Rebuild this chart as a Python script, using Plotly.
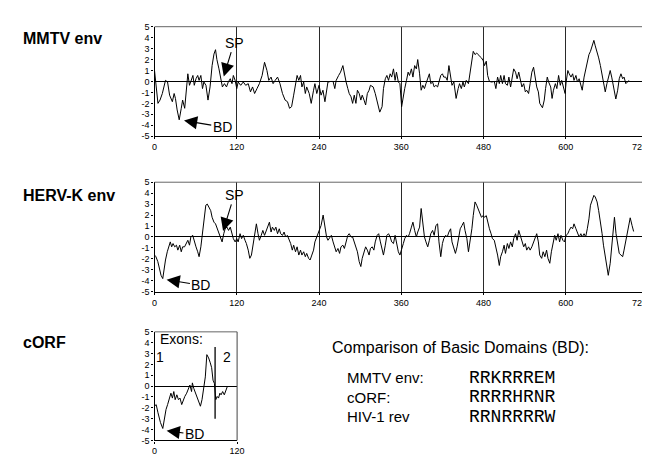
import plotly.graph_objects as go

# ---------------- data ----------------
mmtv_x = [0, 2, 5, 8, 11.4, 16, 19, 22, 26, 28.6, 30.5, 33, 36, 39, 41, 44, 46, 48.6, 51, 53, 56, 58, 60.5, 63, 65, 67.6, 70, 72, 75, 78, 81, 84, 86.7, 89, 91, 94, 97, 99, 102, 105, 107.6, 110.5, 113, 115, 117.6, 120, 122, 125.7, 129.5, 133, 136.7, 140, 143, 146, 149.5, 153, 157, 160.5, 164, 166.7, 170, 173, 176, 179.5, 183, 186.7, 190.5, 194, 197, 200, 203, 205.7, 208, 210.5, 213, 215, 217.6, 220, 222, 225.7, 228.6, 232, 234, 236.7, 240, 243, 245.7, 248.6, 251, 253, 257, 260.5, 263, 265, 268.6, 271.4, 274.8, 277, 279.5, 282, 284, 286.7, 289, 291.4, 293.8, 296, 298.6, 301, 303, 305.7, 308, 310.5, 313, 315, 319, 322, 325.7, 328.6, 332, 334, 336.7, 339, 341.4, 343.8, 346, 348.6, 351, 353, 355.7, 358, 360.5, 363, 365, 367.6, 370, 372, 374.8, 377, 379.5, 382, 384, 386.7, 389, 391.4, 393.8, 396, 398.6, 401, 403, 405.7, 408, 410.5, 413, 415, 417.6, 420, 422, 424.8, 427, 429.5, 432, 434, 436.7, 440, 443, 445, 447.6, 450, 452, 454.8, 458, 460.5, 463, 465, 467.6, 470, 472, 474.8, 477, 479.5, 481.4, 484, 486, 488.6, 492, 495.7, 498, 500.5, 503, 505, 507.6, 510, 512, 514.8, 517, 519.5, 522, 524, 526.7, 529, 531.4, 533.8, 536, 538.6, 541, 543, 545.7, 548, 550.5, 553, 555, 557.6, 560, 562, 566, 568.6, 570.5, 573, 575, 578, 580, 582, 584.8, 587, 589.5, 592, 594, 596.7, 599, 600.5, 603, 605, 607.6, 610, 612, 614.8, 617, 619.5, 622, 624, 626.7, 629, 631.4, 633.8, 636, 638.6, 641, 643, 645.7, 648, 650.5, 653, 655, 657.6, 660, 662, 664.8, 667, 669.5, 673, 675.7, 678, 680.5, 683, 685, 687.6, 690, 692]
mmtv_y = [1.0, -0.35, -2.0, -1.7, -1.1, 0.1, -0.05, -1.25, -1.85, -1.1, -1.55, -2.6, -3.5, -2.45, -1.7, -2.45, -1.1, 0.7, -0.35, -0.05, 0.55, -0.35, 0.25, 0.55, 0.1, 0.55, -0.65, -0.05, -0.35, -1.7, -0.5, 1.45, 2.5, 2.9, 2.0, 1.15, 0.1, -0.5, -0.2, -0.5, -0.05, 0.25, -0.2, 0.55, 0.1, -0.65, -0.05, -0.35, -0.05, -0.35, -0.2, -0.95, -0.5, -1.1, -0.65, -0.2, 0.55, 1.75, 1.0, 0.1, 0.4, -0.2, 0.1, 0.4, -0.2, -1.1, -1.7, -1.85, -2.45, -2.3, -1.25, -0.2, 0.55, 0.1, 0.55, -0.5, -0.05, -1.1, -0.5, -1.1, -2.0, -0.8, -0.2, -1.1, -0.35, -1.25, -0.8, -1.85, -0.8, -0.05, 0, 0, -0.65, 0.1, 0.55, 0.85, 1.45, 0.55, -0.05, -0.65, -1.1, -1.4, -2.0, -1.25, -2.0, -0.8, -1.1, -1.7, -1.25, -1.7, -2.15, -1.1, -0.8, -0.35, -0.5, -1.1, -2.15, -2.8, -2.3, -0.65, 0.25, 0.55, 0.1, 0.7, 0.4, 1.15, 0.1, 0.85, -0.05, -0.2, -2.3, -1.25, -0.65, 0.1, 0.85, 0.55, 1.15, 0.4, 1.45, 1.15, 2.0, 0.7, -0.8, -0.35, -0.65, -0.2, 0.25, 0.7, -0.2, -0.05, -0.5, -0.35, -0.5, -0.05, 0.55, 0.7, 0.4, 0.4, 0.1, 1.45, 0.55, -0.35, -0.05, -1.55, -0.65, -0.2, -0.65, -0.05, -0.5, 0.1, -0.2, 0.85, 1.75, 2.75, 2.45, 2.6, 2.45, 2.3, 2.15, 1.9, 1.45, 1.85, 0.55, 0, -0.05, 0, -0.65, 0.4, -0.2, 0.55, -0.2, 0.55, -0.2, -0.35, 0.4, -0.5, 0.25, 1.15, 0.85, 0.25, 0.85, 0.1, -0.5, -0.2, -0.95, -0.8, -1.1, -0.2, 0.85, 1.3, 0.4, -0.5, -0.95, -2.0, -2.4, -1.7, -0.65, 0.4, -0.05, -0.5, -1.55, -0.8, -0.2, -0.65, 0.55, -0.35, 0.1, -0.5, -1.1, -0.05, 1.0, 0.7, 0.4, 0.7, 0.1, 0.55, -0.05, 0.25, -0.5, -0.8, 0.4, 1.15, 2.0, 2.45, 2.75, 3.2, 3.75, 3.25, 2.75, 2.15, 1.45, 0.55, -0.2, -0.95, -0.2, 0.25, 1.0, 0.4, -0.5, -1.6, -0.8, 0.25, 0.7, 0.25, 0.4, -0.2, -0.05, 0.1]

hervk_x = [0, 2, 4.8, 7, 9.5, 12, 14, 16, 18.6, 21, 23, 25, 27, 29.5, 32, 34, 36.7, 39, 41, 43.8, 46, 48.6, 51, 53, 55.7, 58, 60.5, 63, 65, 67.6, 70, 72, 74.8, 77, 79.5, 82, 84, 86.7, 89, 91.4, 93.8, 96, 98.6, 101, 103, 105.7, 108, 110.5, 113, 115, 117.6, 120, 122, 124.8, 127, 129.5, 132, 134, 136.7, 139, 141.4, 143.8, 146, 148.6, 151, 153, 155.7, 158, 160.5, 163, 165, 167.6, 170, 172, 174.8, 177, 179.5, 182, 184, 186.7, 189, 191.4, 193.8, 196, 198.6, 201, 203, 205.7, 208, 210.5, 213, 215, 217.6, 220, 222, 224.8, 227, 229.5, 232, 234, 236.7, 240, 243, 246, 248.6, 251, 253, 255.7, 258, 260.5, 263, 265, 267.6, 270, 272, 274.8, 277, 279.5, 282, 284, 286.7, 289, 291.4, 293.8, 296, 298.6, 301, 303, 305.7, 308, 310.5, 313, 315, 317.6, 320, 322, 324.8, 327, 329.5, 332, 334, 336.7, 339, 341.4, 343.8, 346, 348.6, 351, 353, 355.7, 358, 360.5, 363, 365, 367.6, 370, 372, 374.8, 377, 379.5, 382, 384, 386.7, 389, 391.4, 393.8, 396, 398.6, 401, 403, 405.7, 408, 410.5, 413, 415, 417.6, 420, 422, 424.8, 427, 429.5, 432, 434, 436.7, 439, 441.4, 443.8, 446, 448.6, 451, 453, 455.7, 458, 460.5, 463, 465, 467.6, 470, 472, 474.8, 477, 479.5, 481.4, 484, 486, 488.6, 491, 493, 495.7, 498, 500.5, 503, 505, 507.6, 510, 512, 514.8, 517, 519.5, 522, 524, 526.7, 529, 531.4, 533.8, 536, 538.6, 541, 543, 545.7, 548, 550.5, 553, 555, 557.6, 560, 562, 564.8, 567, 569.5, 572, 574, 576.7, 579, 581.4, 583.8, 586, 588.6, 591, 593, 595.7, 598, 600.5, 603, 605, 607.6, 610, 612, 614.8, 617, 619.5, 622, 624, 626.7, 629, 631.4, 633.8, 636, 638.6, 641, 643, 645.7, 648, 650.5, 653, 655, 657.6, 660, 662, 664.8, 667, 669.5, 671, 673.3, 675.7, 678, 680.5, 683, 685, 687.6, 690, 692.4, 694, 696.7, 699]
hervk_y = [-1.65, -1.8, -2.25, -2.9, -3.5, -3.8, -2.9, -2.1, -1.35, -0.9, -0.45, -0.9, -0.6, -0.9, -0.75, -1.2, -0.75, -1.35, -0.9, -0.9, -0.6, -0.3, -0.75, 0, 0.15, -0.45, -0.9, -1.35, -1.8, -0.9, 0.45, 1.65, 2.9, 3.0, 2.7, 2.4, 1.8, 1.35, 1.2, 0.75, 0.3, 0, -0.45, 0.3, 0.75, 0.9, 0.6, 0.9, 0.3, -0.15, -0.45, -0.15, -0.45, 0.3, -0.15, 0.15, -0.3, -0.6, -1.2, -1.95, -1.65, -0.75, 0.3, 1.2, 0.3, -0.3, 0.15, 0.6, 0.15, 0.6, 1.05, 1.35, 0.45, 0.9, 0.6, 0.9, 0.3, 0.75, 0.3, 0.15, 0.45, 0, 0.15, -0.15, -0.6, -1.2, -0.75, -1.35, -0.9, -1.65, -1.2, -1.65, -1.35, -1.8, -1.5, -1.95, -2.1, -1.65, -1.2, -0.45, 0, 0.6, 1.05, 2.0, 0.75, 0, -0.3, 0, 0.15, -0.45, -0.9, -1.35, -1.05, -1.5, -0.9, -0.75, -1.05, -0.45, 0.15, 0.3, 0, 0, -0.45, -0.75, -1.35, -2.25, -2.7, -1.95, -1.35, -0.9, -1.2, -1.65, -1.05, -0.9, -1.2, -0.45, 0.15, 0.3, -0.45, -1.05, -1.65, -0.75, 0.15, 0.3, 0, -0.45, -0.6, 0.15, -0.6, -1.35, -1.65, -1.2, -0.6, -0.15, 0.15, 0, 0.3, 0.9, 1.35, 0.6, 0, 0.45, 0.9, 2.6, 1.35, 0, -0.45, -0.9, -0.3, 0.3, 0.6, 0.15, 1.05, 1.2, -0.45, -1.8, -0.6, -0.15, 0.15, 0, 0.45, 0.75, -0.45, -1.05, -1.5, -0.9, 0, 0.75, 1.05, 1.35, 0.6, -0.15, -1.35, -0.45, 0.75, 1.95, 3.2, 2.9, 2.6, 2.1, 1.8, 1.95, 1.8, 1.95, 1.35, 0.75, 0.3, -0.15, -0.3, -0.9, -1.65, -2.6, -1.8, -1.35, -0.75, -1.5, -0.6, -1.05, -0.45, -0.9, -0.15, 0.3, -0.3, 0.6, 0.15, -0.45, -0.9, -0.6, -1.2, -0.9, -1.2, -0.9, -0.45, 0, 0.3, -0.45, -1.65, -1.95, -1.35, -1.8, -1.2, -1.95, -2.4, -1.35, -0.6, 0.15, -0.3, 0.3, -0.45, 0.15, -0.3, -0.45, 0.15, 0.3, 0.6, 0.9, 0.75, 1.2, 0.75, 0.3, 0, 0.3, 0, 0.3, 0, 0.75, 1.65, 2.9, 3.5, 3.8, 3.65, 3.2, 2.4, 1.5, 0.3, -0.75, -1.8, -2.6, -3.5, -2.4, -0.9, 0.75, 1.8, 0.3, -0.75, -1.5, -1.65, -1.8, -1.2, -0.3, 0.45, 1.05, 1.75, 1.05, 0.5]

corf_x = [0, 2.4, 5, 8.6, 12, 14.3, 16.7, 19, 21.4, 23.8, 26, 28, 30, 32.4, 34.8, 37, 39.5, 42, 44, 46.7, 49, 51.4, 53.8, 55, 57, 59.5, 62, 64, 66.7, 69, 71.4, 73.8, 76, 78.6, 81, 83, 85, 87, 89, 91, 93, 95, 96.7, 99, 101.4, 103.8, 106]
corf_y = [-1.85, -1.7, -2.45, -3.35, -3.9, -2.9, -2.15, -1.7, -1.25, -0.65, -1.1, -0.5, -1.25, -0.8, -1.25, -1.1, -1.7, -1.25, -0.95, -0.65, -0.35, 0.1, -0.5, 0.3, -0.2, -0.65, -0.95, -1.4, -1.85, -1.25, -0.35, 0.85, 2.9, 2.6, 2.15, 1.7, 0.55, 0.25, -1.25, -0.95, -1.1, -0.65, -0.8, -0.5, -0.8, -0.35, 0]

exon_boundary_x = [88, 88]
exon_boundary_y = [3.6, -3.0]

env_xticks = [0, 120, 240, 360, 480, 600, 720]
corf_xticks = [0, 120]
y_ticks = [5, 4, 3, 2, 1, 0, -1, -2, -3, -4, -5]
y_ticklabels = [str(v) for v in y_ticks]

panel_labels = ["MMTV env", "HERV-K env", "cORF"]
bd_title = "Comparison of Basic Domains (BD):"
bd_names = ["MMTV env:", "cORF:", "HIV-1 rev"]
bd_seqs = ["RRKRRREM", "RRRRHRNR", "RRNRRRRW"]

# ---------------- layout ----------------
W, H = 650, 456
FONT = "Arial, Liberation Sans, sans-serif"

def px_x(p):
    return p / W

def px_y(p):
    return 1 - p / H

fig = go.Figure()
line = dict(color="black", width=1)
fig.add_trace(go.Scatter(x=mmtv_x, y=mmtv_y, mode="lines", line=line, xaxis="x", yaxis="y", showlegend=False))
fig.add_trace(go.Scatter(x=hervk_x, y=hervk_y, mode="lines", line=line, xaxis="x2", yaxis="y2", showlegend=False))
fig.add_trace(go.Scatter(x=corf_x, y=corf_y, mode="lines", line=line, xaxis="x3", yaxis="y3", showlegend=False))
fig.add_trace(go.Scatter(x=exon_boundary_x, y=exon_boundary_y, mode="lines", line=dict(color="black", width=1.3),
                         xaxis="x3", yaxis="y3", showlegend=False))

tickfont = dict(family=FONT, size=9, color="black")

def xax(domain, rng, ticks, anchor):
    # the last tick label of the wide panels sits on the page edge; it is written as an annotation
    labels = [str(t) if t < 720 else "" for t in ticks]
    return dict(domain=domain, range=rng, anchor=anchor, tickvals=ticks, ticktext=labels,
                showgrid=True, gridcolor="#2a2a2a", gridwidth=1, zeroline=False, showline=True,
                linecolor="black", linewidth=1.2, ticks="outside", ticklen=2, tickcolor="black",
                tickfont=tickfont, fixedrange=True)

def yax(domain, anchor):
    return dict(domain=domain, range=[-5, 5], anchor=anchor, tickvals=y_ticks, ticktext=y_ticklabels,
                showgrid=False, zeroline=True, zerolinecolor="black", zerolinewidth=1.2, showline=True,
                linecolor="black", linewidth=1.2, ticks="outside", ticklen=2, tickcolor="black",
                tickfont=tickfont, fixedrange=True)

fig.update_layout(
    width=W, height=H, margin=dict(l=0, r=0, t=0, b=0),
    paper_bgcolor="white", plot_bgcolor="white",
    xaxis=xax([px_x(146), px_x(648)], [0, 720], env_xticks, "y"),
    yaxis=yax([px_y(126), px_y(14)], "x"),
    xaxis2=xax([px_x(146), px_x(648)], [0, 720], env_xticks, "y2"),
    yaxis2=yax([px_y(285), px_y(173)], "x2"),
    xaxis3=xax([px_x(146), px_x(230)], [0, 120], corf_xticks, "y3"),
    yaxis3=yax([px_y(437), px_y(326)], "x3"),
)

# frame borders (top grey, right grey)
for xa, ya in [("x", "y"), ("x2", "y2"), ("x3", "y3")]:
    fig.add_shape(type="line", xref=f"{xa} domain", yref=f"{ya} domain", x0=0, x1=1, y0=1, y1=1,
                  line=dict(color="#666", width=1))
    fig.add_shape(type="line", xref=f"{xa} domain", yref=f"{ya} domain", x0=1, x1=1, y0=0, y1=1,
                  line=dict(color="#444", width=1))

ann = []
lab_font = dict(family=FONT, size=16, color="black")
for text, yp in zip(panel_labels, [26, 187, 337]):
    ann.append(dict(text=f"<b>{text}</b>", x=px_x(10), y=px_y(yp), xref="paper", yref="paper",
                    xanchor="left", yanchor="middle", showarrow=False, font=lab_font))

# the "720" end labels of the two wide panels
for yp in [137, 296]:
    ann.append(dict(text=str(env_xticks[-1]), x=px_x(630), y=px_y(yp), xref="paper", yref="paper",
                    xanchor="left", yanchor="middle", showarrow=False, font=tickfont))

arrow_font = dict(family=FONT, size=14, color="black")

def arrow(text, xa, ya, tx, ty, hx, hy):
    return dict(text=text, x=hx, y=hy, ax=tx, ay=ty, xref=xa, yref=ya, axref=xa, ayref=ya,
                showarrow=True, arrowhead=2, arrowsize=2.4, arrowwidth=1.1, arrowcolor="black",
                standoff=0, startstandoff=0, font=arrow_font)

ann.append(arrow("SP", "x", "y", 116, 3.55, 101, 0.45))
ann.append(arrow("BD", "x", "y", 98.8, -4.15, 43, -3.57))
ann.append(arrow("SP", "x2", "y2", 116.4, 3.84, 100, 0.54))
ann.append(arrow("BD", "x2", "y2", 67.7, -4.4, 17.6, -3.9))
ann.append(arrow("BD", "x3", "y3", 58, -4.45, 17.6, -4.1))

ann.append(dict(text="Exons:", x=5.0, y=4.35, xref="x3", yref="y3", xanchor="left", yanchor="middle",
                showarrow=False, font=arrow_font))
ann.append(dict(text="1", x=8.6, y=2.7, xref="x3", yref="y3", xanchor="center", yanchor="middle",
                showarrow=False, font=arrow_font))
ann.append(dict(text="2", x=106, y=2.7, xref="x3", yref="y3", xanchor="center", yanchor="middle",
                showarrow=False, font=arrow_font))

ann.append(dict(text=bd_title, x=px_x(324), y=px_y(342), xref="paper", yref="paper", xanchor="left",
                yanchor="middle", showarrow=False, font=dict(family=FONT, size=16, color="black")))
for name, seq, yp in zip(bd_names, bd_seqs, [373, 393, 413]):
    ann.append(dict(text=name, x=px_x(340), y=px_y(yp), xref="paper", yref="paper", xanchor="left",
                    yanchor="middle", showarrow=False, font=dict(family=FONT, size=15, color="black")))
    ann.append(dict(text=seq, x=px_x(464), y=px_y(yp), xref="paper", yref="paper", xanchor="left",
                    yanchor="middle", showarrow=False,
                    font=dict(family="Courier New, Liberation Mono, monospace", size=18, color="black")))

fig.update_layout(annotations=ann)
fig.write_html("out.html")
